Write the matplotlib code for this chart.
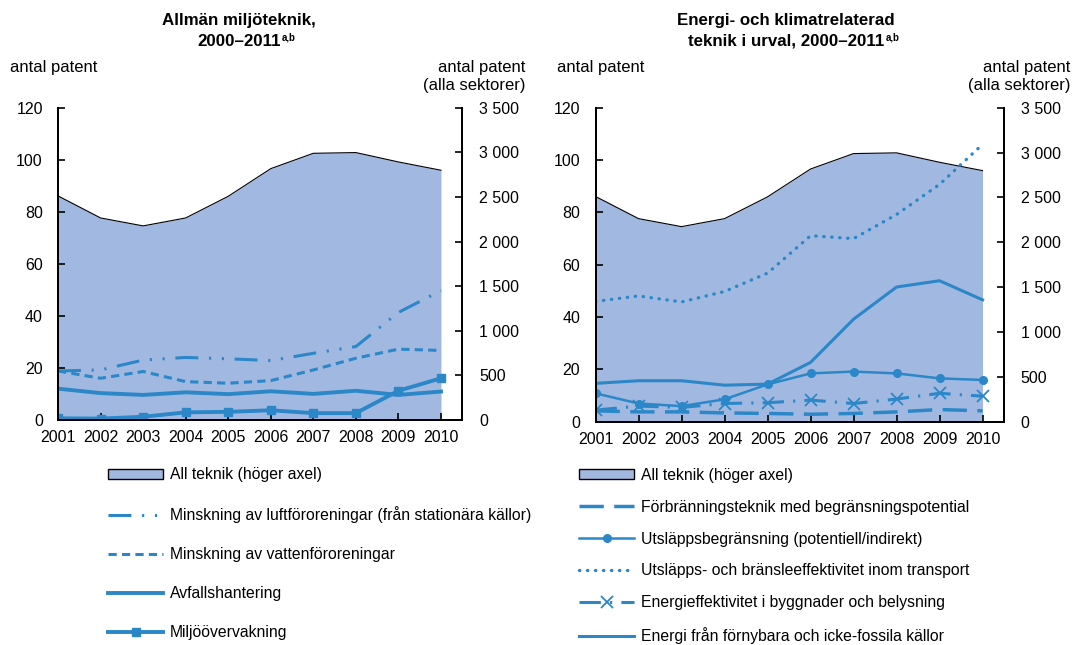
import matplotlib
matplotlib.use("Agg")
import matplotlib.pyplot as plt
from matplotlib.patches import Patch
from matplotlib.lines import Line2D
from matplotlib.ticker import FuncFormatter

plt.rcParams['font.family'] = ['Liberation Sans', 'DejaVu Sans']

# --- data ---
years = [2001, 2002, 2003, 2004, 2005, 2006, 2007, 2008, 2009, 2010]
all_teknik = [2511, 2264, 2175, 2264, 2507, 2817, 2989, 2997, 2892, 2799]  # höger axel

# vänster panel
luft = [18.8, 19.2, 23.0, 24.0, 23.5, 22.8, 25.6, 28.2, 41.3, 49.7]
vatten = [18.8, 16.0, 18.6, 14.7, 14.1, 15.1, 19.2, 23.7, 27.2, 26.7]
avfall = [12.0, 10.3, 9.6, 10.6, 9.9, 11.0, 10.0, 11.2, 9.6, 10.9]
overvakning = [0.6, 0.5, 1.2, 2.9, 3.1, 3.7, 2.6, 2.6, 11.2, 16.0]

# höger panel
forbranning = [4.2, 3.8, 3.8, 3.4, 3.2, 2.9, 3.2, 3.8, 4.7, 4.2]
utslapp = [10.9, 7.0, 6.0, 8.6, 14.3, 18.5, 19.2, 18.5, 16.6, 16.0]
transport = [46.0, 48.1, 45.8, 49.8, 56.8, 71.1, 70.0, 79.2, 90.7, 106.0]
byggnader = [4.5, 6.0, 5.5, 7.0, 7.3, 8.3, 7.0, 8.7, 10.9, 9.8]
fornybar = [14.7, 15.7, 15.7, 14.0, 14.4, 22.7, 39.2, 51.5, 53.9, 46.6]

BLUE = '#2b87c8'
FILL = '#a1b9e1'
BG = '#f0f8fc'
TICK_FS = 11.5
LEG_FS = 11.3
TITLE_FS = 12.2

# linjestilar
LS_LUFT = (0, (7.5, 3.5, 0.7, 3.5, 0.7, 3.5))
LS_VATTEN = (0, (2.7, 1.7))
LS_FORBR = (0, (7, 3))
LS_TRANSP = (0, (0.1, 2.3))
LS_BYGG = (0, (7, 3, 0.7, 3))


def space_thousands(v, pos):
    return f"{int(v):,}".replace(",", " ")


def setup_panel(rect, title1, title2, title_x):
    ax = fig.add_axes(rect)
    ax2 = ax.twinx()
    ax.set_zorder(ax2.get_zorder() + 1)
    ax.patch.set_visible(False)
    ax2.patch.set_facecolor(BG)

    ax2.fill_between(years, all_teknik, 0, color=FILL, linewidth=0)
    ax2.plot(years, all_teknik, color='black', linewidth=0.8)

    ax.set_xlim(2001, 2010.5)
    ax.set_ylim(0, 120)
    ax2.set_ylim(0, 3500)
    ax.set_xticks(years)
    ax.set_yticks(range(0, 121, 20))
    ax2.set_yticks(range(0, 3501, 500))
    ax2.yaxis.set_major_formatter(FuncFormatter(space_thousands))

    for a in (ax, ax2):
        for s in a.spines.values():
            s.set_linewidth(1.4)
        a.spines['top'].set_visible(False)
    ax.tick_params(axis='x', direction='in', length=5, width=1.2, pad=7, labelsize=TICK_FS)
    ax.tick_params(axis='y', direction='in', length=5, width=1.2, pad=11, labelsize=TICK_FS)
    ax2.tick_params(axis='y', direction='in', length=5, width=1.2, pad=12, labelsize=TICK_FS)

    fig.text(title_x, 0.968, title1, ha='center', va='center', fontsize=TITLE_FS, fontweight='bold')
    t2 = fig.text(title_x, 0.936, title2, ha='center', va='center', fontsize=TITLE_FS,
                  fontweight='bold')
    ax.annotate('a,b', xy=(1, 0.75), xycoords=t2, xytext=(1, 0), textcoords='offset points',
                fontsize=7, fontweight='bold', ha='left', va='center')
    return ax, ax2


fig = plt.figure(figsize=(10.75, 6.45), dpi=100)

# ---- vänster panel ----
axL, axL2 = setup_panel([0.054, 0.349, 0.376, 0.484], 'Allmän miljöteknik,', '2000–2011', 0.222)
axL.plot(years, luft, color=BLUE, lw=2.2, linestyle=LS_LUFT)
axL.plot(years, vatten, color=BLUE, lw=2.2, linestyle=LS_VATTEN)
axL.plot(years, avfall, color=BLUE, lw=2.8)
axL.plot(years, overvakning, color=BLUE, lw=2.8, marker='s', markersize=6)

fig.text(0.009, 0.896, 'antal patent', fontsize=12, ha='left', va='center')
fig.text(0.489, 0.881, 'antal patent\n(alla sektorer)', fontsize=12, ha='right', va='center',
         linespacing=1.25)

handlesL = [
    Patch(facecolor=FILL, edgecolor='black', linewidth=1.0),
    Line2D([], [], color=BLUE, lw=2.2, linestyle=LS_LUFT),
    Line2D([], [], color=BLUE, lw=2.2, linestyle=LS_VATTEN),
    Line2D([], [], color=BLUE, lw=2.8),
    Line2D([], [], color=BLUE, lw=2.8, marker='s', markersize=6),
]
labelsL = ['All teknik (höger axel)',
           'Minskning av luftföroreningar (från stationära källor)',
           'Minskning av vattenföroreningar',
           'Avfallshantering',
           'Miljöövervakning']
fig.legend(handlesL, labelsL, loc='upper left', bbox_to_anchor=(0.1005, 0.2757), frameon=False,
           fontsize=LEG_FS, handlelength=3.5, handleheight=0.6, handletextpad=0.42,
           labelspacing=1.53, borderpad=0, borderaxespad=0)

# ---- höger panel ----
axR, axR2 = setup_panel([0.554, 0.346, 0.380, 0.487], 'Energi- och klimatrelaterad',
                        'teknik i urval, 2000–2011', 0.731)
axR.plot(years, forbranning, color=BLUE, lw=2.5, linestyle=LS_FORBR)
axR.plot(years, utslapp, color=BLUE, lw=1.8, marker='o', markersize=5.5)
axR.plot(years, transport, color=BLUE, lw=2.4, linestyle=LS_TRANSP, dash_capstyle='round')
axR.plot(years, byggnader, color=BLUE, lw=2.2, linestyle=LS_BYGG, marker='x',
         markersize=8, markeredgewidth=1.3)
axR.plot(years, fornybar, color=BLUE, lw=2.2)

fig.text(0.518, 0.896, 'antal patent', fontsize=12, ha='left', va='center')
fig.text(0.996, 0.881, 'antal patent\n(alla sektorer)', fontsize=12, ha='right', va='center',
         linespacing=1.25)

handlesR = [
    Patch(facecolor=FILL, edgecolor='black', linewidth=1.0),
    Line2D([], [], color=BLUE, lw=2.5, linestyle=LS_FORBR),
    Line2D([], [], color=BLUE, lw=1.8, marker='o', markersize=5.5),
    Line2D([], [], color=BLUE, lw=2.4, linestyle=LS_TRANSP, dash_capstyle='round'),
    Line2D([], [], color=BLUE, lw=2.2, linestyle=LS_BYGG, marker='x',
           markersize=8, markeredgewidth=1.3),
    Line2D([], [], color=BLUE, lw=2.2),
]
labelsR = ['All teknik (höger axel)',
           'Förbränningsteknik med begränsningspotential',
           'Utsläppsbegränsning (potentiell/indirekt)',
           'Utsläpps- och bränsleeffektivitet inom transport',
           'Energieffektivitet i byggnader och belysning',
           'Energi från förnybara och icke-fossila källor']
fig.legend(handlesR, labelsR, loc='upper left', bbox_to_anchor=(0.539, 0.275), frameon=False,
           fontsize=LEG_FS, handlelength=3.5, handleheight=0.6, handletextpad=0.42,
           labelspacing=1.08, borderpad=0, borderaxespad=0)

fig.savefig('out.png', dpi=100)
